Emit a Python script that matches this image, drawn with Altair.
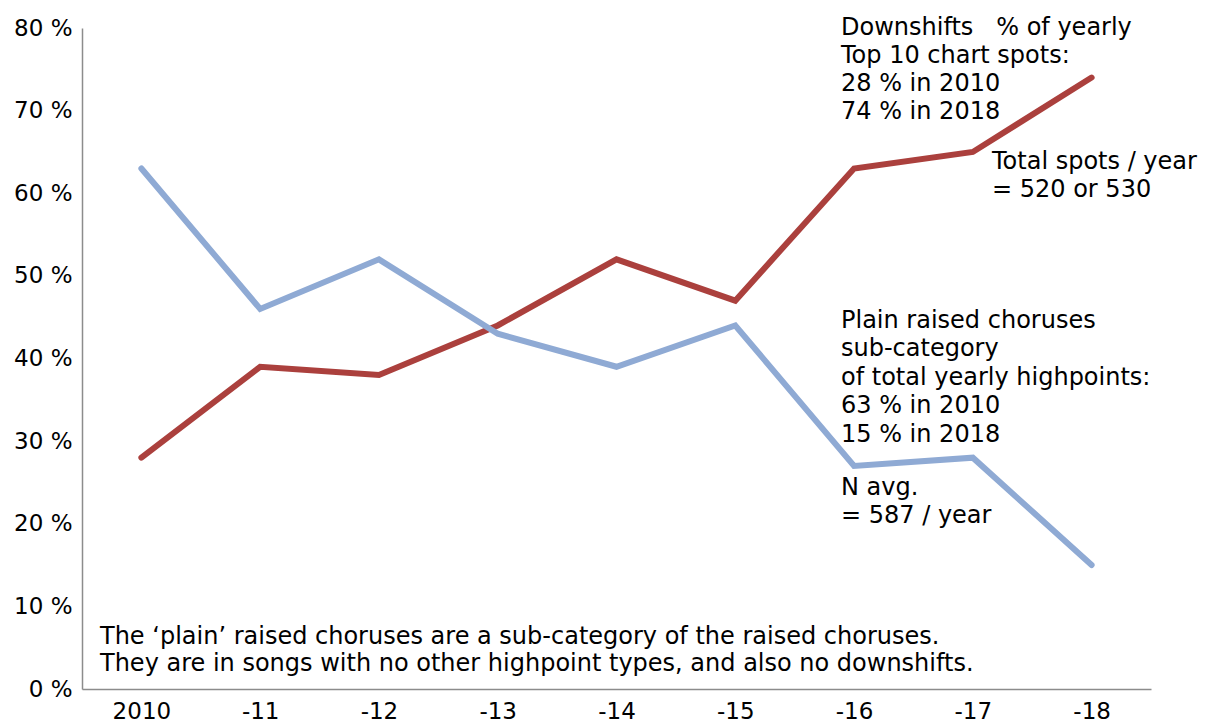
import altair as alt
import pandas as pd

years = ["2010", "-11", "-12", "-13", "-14", "-15", "-16", "-17", "-18"]
downshifts = [28, 39, 38, 44, 52, 47, 63, 65, 74]
plain_raised = [63, 46, 52, 43, 39, 44, 27, 28, 15]
series_names = ["Downshifts", "Plain raised choruses"]
colors = ["#AB403D", "#8FAAD4"]
y_ticks = [0, 10, 20, 30, 40, 50, 60, 70, 80]

FONT = "DejaVu Sans"
FS = 24
AFS = 23

rows = []
for i, yr in enumerate(years):
    rows.append({"year": yr, "series": series_names[0], "value": downshifts[i], "order": i})
    rows.append({"year": yr, "series": series_names[1], "value": plain_raised[i], "order": i})
df = pd.DataFrame(rows)

lines = alt.Chart(df).mark_line(strokeWidth=6, strokeCap="round", strokeJoin="miter").encode(
    x=alt.X("year:N", sort=years, title=None,
            scale=alt.Scale(paddingInner=0, paddingOuter=0.5),
            axis=alt.Axis(labelAngle=0, ticks=False, labelFont=FONT, labelFontSize=AFS,
                          labelColor="#000", labelPadding=11, domainColor="#8c8c8c",
                          domainWidth=1.5, grid=False)),
    y=alt.Y("value:Q", title=None,
            scale=alt.Scale(domain=[0, 80], nice=False),
            axis=alt.Axis(values=y_ticks, labelExpr="datum.value + '\u00a0%'", ticks=False,
                          labelFont=FONT, labelFontSize=AFS, labelColor="#000",
                          labelPadding=10, domainColor="#8c8c8c", domainWidth=1.5,
                          grid=False)),
    color=alt.Color("series:N", scale=alt.Scale(domain=series_names, range=colors), legend=None),
    detail="series:N",
    order="order:Q",
)

NB = "\u00a0"
notes = [
    ("Downshifts" + NB * 3 + "% of yearly", 759, 28),
    ("Top 10 chart spots:", 759, 56),
    ("28 % in 2010", 759, 84),
    ("74 % in 2018", 759, 112),
    ("Total spots / year", 910, 162),
    ("= 520 or 530", 910, 190),
    ("Plain raised choruses", 759, 321),
    ("sub-category", 759, 349),
    ("of total yearly highpoints:", 759, 378),
    ("63 % in 2010", 759, 406),
    (NB + "15 % in 2018", 759, 435),
    ("N avg.", 759, 488),
    ("= 587 / year", 759, 516),
    ("The \u2018plain\u2019 raised choruses are a sub-category of the raised choruses.", 18, 637),
    ("They are in songs with no other highpoint types, and also no downshifts.", 18, 664),
]
note_layers = []
for txt, px, py in notes:
    note_layers.append(
        alt.Chart(pd.DataFrame({"t": [txt]})).mark_text(
            align="left", baseline="middle", font=FONT, fontSize=FS, color="#000"
        ).encode(text="t:N", x=alt.value(px), y=alt.value(py - 28))
    )

chart = alt.layer(lines, *note_layers).properties(
    width=1069, height=661,
    autosize=alt.AutoSizeParams(type="none"),
    padding={"left": 82, "top": 28, "right": 64, "bottom": 37},
).configure(background="white").configure_view(stroke=None, strokeWidth=0)

chart.save("out.html", embed_options={"renderer": "svg", "actions": False})
